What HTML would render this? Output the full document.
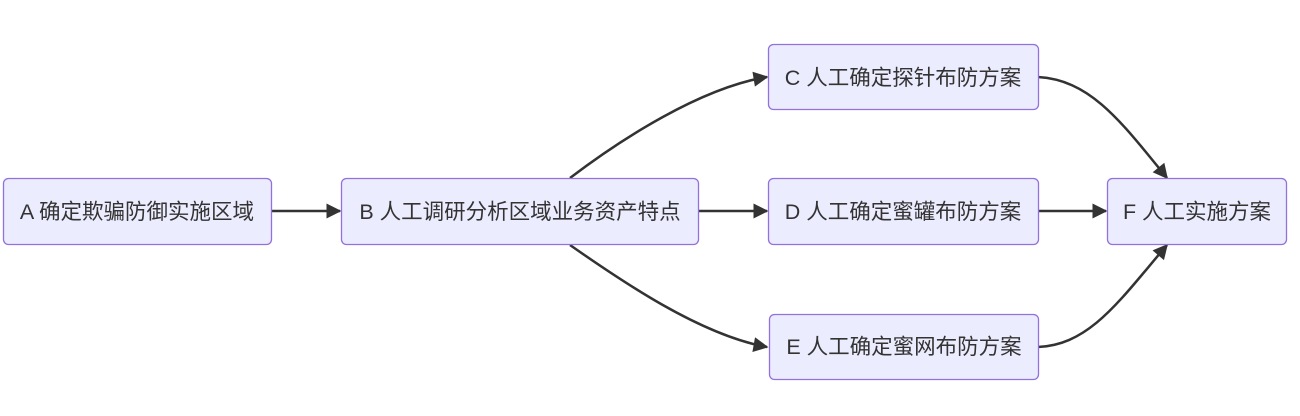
<!DOCTYPE html>
<html><head><meta charset="utf-8"><style>
html,body{margin:0;padding:0;background:#fff;width:1300px;height:416px;overflow:hidden}
text{font-family:"Liberation Sans","Noto Sans CJK SC",sans-serif;font-size:21.5px;fill:#333}
</style></head><body>
<svg width="1300" height="416" xmlns="http://www.w3.org/2000/svg">
<defs><marker id="a" viewBox="0 0 10 10" refX="9" refY="5" markerWidth="17" markerHeight="15" markerUnits="userSpaceOnUse" orient="auto"><path d="M0,0L10,5L0,10z" fill="#333"/></marker></defs>
<g fill="none" stroke="#333" stroke-width="2.5" marker-end="url(#a)">
<path d="M271,211H340"/>
<path d="M698,211H767"/>
<path d="M1038,211H1106"/>
<path d="M570,178C620,140 700,88 767,77"/>
<path d="M570,245C620,280 700,335 767,347"/>
<path d="M1038,77C1090,80 1120,120 1167,178"/>
<path d="M1038,347C1090,345 1120,300 1167,245"/>
</g>
<g fill="#ECECFF" stroke="#9370DB" stroke-width="1.3">
<rect x="3.5" y="178.5" width="268" height="66" rx="5"/>
<rect x="341.5" y="178.5" width="357" height="66" rx="5"/>
<rect x="768.5" y="44.5" width="270" height="65" rx="5"/>
<rect x="768.5" y="178.5" width="270" height="66" rx="5"/>
<rect x="769.5" y="314.5" width="269" height="65" rx="5"/>
<rect x="1107.5" y="178.5" width="179" height="66" rx="5"/>
</g>
<g text-anchor="middle">
<text x="137" y="219">A 确定欺骗防御实施区域</text>
<text x="520" y="219">B 人工调研分析区域业务资产特点</text>
<text x="903" y="85">C 人工确定探针布防方案</text>
<text x="903" y="219">D 人工确定蜜罐布防方案</text>
<text x="904" y="354">E 人工确定蜜网布防方案</text>
<text x="1197" y="219">F 人工实施方案</text>
</g>
</svg>
</body></html>
